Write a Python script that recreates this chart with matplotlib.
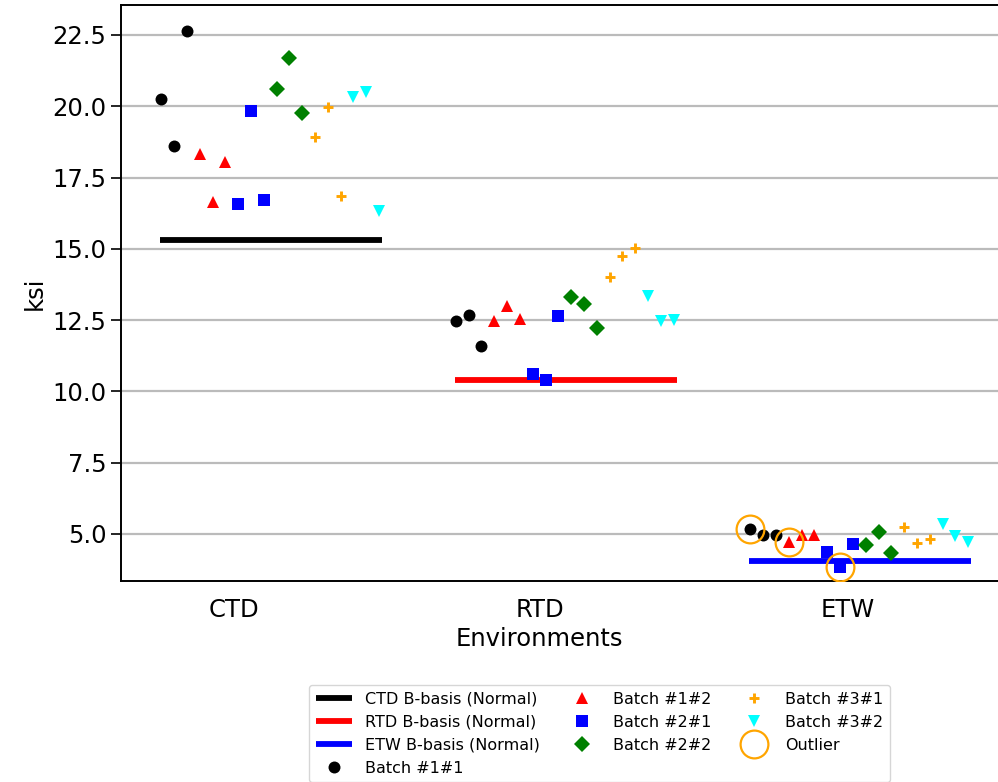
import matplotlib
matplotlib.use("Agg")
import matplotlib.pyplot as plt
import numpy as np

environments = ["CTD", "RTD", "ETW"]
basis_values = [15.31, 10.40, 4.05]
basis_colors = ["black", "red", "blue"]

batch_labels = ["Batch #1#1", "Batch #1#2", "Batch #2#1",
                "Batch #2#2", "Batch #3#1", "Batch #3#2"]
batch_markers = ["o", "^", "s", "D", "+", "v"]
batch_colors = ["black", "red", "blue", "green", "orange", "cyan"]

# strength values (ksi) per environment, 3 specimens per batch
ctd = [[20.26, 18.62, 22.65],
       [18.33, 16.65, 18.05],
       [16.58, 19.84, 16.72],
       [20.62, 21.70, 19.76],
       [18.91, 19.96, 16.84],
       [20.31, 20.49, 16.32]]
rtd = [[12.48, 12.69, 11.60],
       [12.48, 12.99, 12.55],
       [10.62, 10.40, 12.63],
       [13.32, 13.08, 12.23],
       [14.02, 14.74, 15.02],
       [13.36, 12.47, 12.49]]
etw = [[5.18, 4.98, 4.98],
       [4.71, 4.98, 4.98],
       [4.36, 3.83, 4.65],
       [4.62, 5.06, 4.32],
       [5.24, 4.70, 4.83],
       [5.34, 4.93, 4.71]]
data = [ctd, rtd, etw]

# outliers: (environment index, batch index, specimen index)
outliers = [(2, 0, 0), (2, 1, 0), (2, 2, 1)]

group_gap = 23
fig = plt.figure(figsize=(9.98, 7.82), dpi=100)
ax = fig.add_axes([0.1212, 0.257, 0.958, 0.7366])

handles = []
for g, env in enumerate(environments):
    x0 = g * group_gap
    h, = ax.plot([x0 - 0.1, x0 + 17.25], [basis_values[g], basis_values[g]],
                 color=basis_colors[g], lw=4.2, solid_capstyle="butt",
                 label=env + " B-basis (Normal)", zorder=2)
    handles.append(h)

for b in range(len(batch_labels)):
    xs, ys = [], []
    for g in range(len(environments)):
        for k, v in enumerate(data[g][b]):
            xs.append(g * group_gap + b * 3 + k)
            ys.append(v)
    if batch_markers[b] == "+":
        h, = ax.plot(xs, ys, ls="none", marker="+", ms=6.5, mew=2.1,
                     color=batch_colors[b], label=batch_labels[b], zorder=3)
    else:
        h, = ax.plot(xs, ys, ls="none", marker=batch_markers[b], ms=8.6,
                     mew=0, color=batch_colors[b], label=batch_labels[b],
                     zorder=3)
    handles.append(h)

ox = [g * group_gap + b * 3 + k for g, b, k in outliers]
oy = [data[g][b][k] for g, b, k in outliers]
h, = ax.plot(ox, oy, ls="none", marker="o", ms=20, mfc="none", mec="orange",
             mew=1.6, label="Outlier", zorder=4)
handles.append(h)

ax.set_xlim(-3.15, 71.5)
ax.set_ylim(3.35, 23.55)
ax.set_xticks([5.7, 29.6, 53.6])
ax.set_xticklabels(environments)
ax.set_yticks(np.arange(5, 23, 2.5))
ax.tick_params(axis="x", length=0, labelsize=17.5, pad=12)
ax.tick_params(axis="y", length=7, width=1.2, labelsize=17.5)
ax.yaxis.grid(True, color="#bbbbbb", lw=1.6)
ax.set_axisbelow(True)
for s in ax.spines.values():
    s.set_linewidth(1.4)
ax.spines["right"].set_visible(False)

ax.set_xlabel("Environments", fontsize=17.5)
ax.xaxis.set_label_coords(0.438, -0.08)
ax.set_ylabel("ksi", fontsize=17.5)

ax.legend(handles=handles, ncol=3, loc="upper center",
          bbox_to_anchor=(0.6007, 0.134), bbox_transform=fig.transFigure,
          fontsize=11.5, handlelength=2.3, labelspacing=0.5,
          columnspacing=1.5)

fig.savefig("out.png", dpi=100)
